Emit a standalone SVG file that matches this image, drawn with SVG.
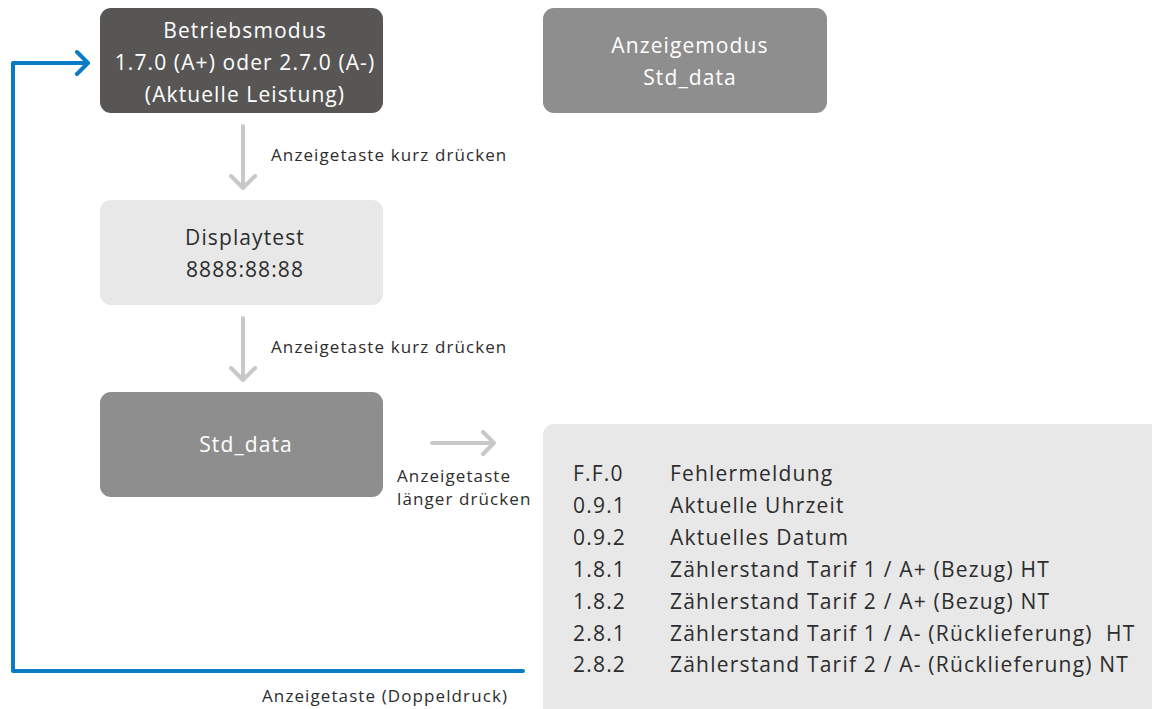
<svg xmlns="http://www.w3.org/2000/svg" width="1152" height="709" viewBox="0 0 1152 709">
<defs>
<style>
.t{font-family:"Open Sans","Liberation Sans",sans-serif;font-weight:400;}
.bx{font-size:21px;letter-spacing:1.1px;text-anchor:middle;}
.w{fill:#ffffff;}
.d{fill:#2d2d2d;}
.lb{font-size:17px;letter-spacing:1.1px;fill:#2d2d2d;}
.ls{font-size:21px;letter-spacing:1.2px;fill:#2d2d2d;}
.g{stroke:#c8c8c8;stroke-width:4;fill:none;stroke-linecap:round;stroke-linejoin:round;}
.b{stroke:#0a7cc6;stroke-width:4;fill:none;stroke-linecap:round;stroke-linejoin:round;}
</style>
</defs>
<rect width="1152" height="709" fill="#ffffff"/>
<g id="node-betriebsmodus">
<rect x="100" y="8" width="283" height="105" rx="11" fill="#575655"/>
<text class="t bx w" x="245" y="38">Betriebsmodus</text>
<text class="t bx w" x="245" y="70">1.7.0 (A+) oder 2.7.0 (A-)</text>
<text class="t bx w" x="245" y="102">(Aktuelle Leistung)</text>
</g>
<g id="node-anzeigemodus">
<rect x="543" y="8" width="284" height="105" rx="11" fill="#8f8e8e"/>
<text class="t bx w" x="690" y="53">Anzeigemodus</text>
<text class="t bx w" x="690" y="85">Std_data</text>
</g>
<g id="node-displaytest">
<rect x="100" y="200" width="283" height="105" rx="11" fill="#e8e8e8"/>
<text class="t bx d" x="245" y="245">Displaytest</text>
<text class="t bx d" x="245" y="277">8888:88:88</text>
</g>
<g id="node-stddata">
<rect x="100" y="392" width="283" height="105" rx="11" fill="#8f8e8e"/>
<text class="t bx w" x="246" y="452">Std_data</text>
</g>
<g id="node-liste">
<rect x="543" y="424" width="640" height="320" rx="11" fill="#e8e8e8"/>
<g class="t ls">
<text x="573" y="481">F.F.0</text><text x="670" y="481">Fehlermeldung</text>
<text x="573" y="513">0.9.1</text><text x="670" y="513">Aktuelle Uhrzeit</text>
<text x="573" y="545">0.9.2</text><text x="670" y="545">Aktuelles Datum</text>
<text x="573" y="577">1.8.1</text><text x="670" y="577">Zählerstand Tarif 1 / A+ (Bezug) HT</text>
<text x="573" y="609">1.8.2</text><text x="670" y="609">Zählerstand Tarif 2 / A+ (Bezug) NT</text>
<text x="573" y="641">2.8.1</text><text x="670" y="641" xml:space="preserve">Zählerstand Tarif 1 / A- (Rücklieferung)  HT</text>
<text x="573" y="672">2.8.2</text><text x="670" y="672">Zählerstand Tarif 2 / A- (Rücklieferung) NT</text>
</g>
</g>
<g id="connectors">
<path class="g" d="M243 126 V188 M231 176 L243 188 L255 176"/>
<path class="g" d="M243 318 V380 M231 368 L243 380 L255 368"/>
<path class="g" d="M432 443 H494 M483 432 L494 443 L483 454"/>
<path class="b" d="M523 671 H13 V63 H87 M77 52 L88 63 L77 74"/>
<text class="t lb" x="271" y="161">Anzeigetaste kurz drücken</text>
<text class="t lb" x="271" y="353">Anzeigetaste kurz drücken</text>
<text class="t lb" x="397" y="482">Anzeigetaste</text>
<text class="t lb" x="397" y="505">länger drücken</text>
<text class="t lb" x="262" y="702">Anzeigetaste (Doppeldruck)</text>
</g>
</svg>
